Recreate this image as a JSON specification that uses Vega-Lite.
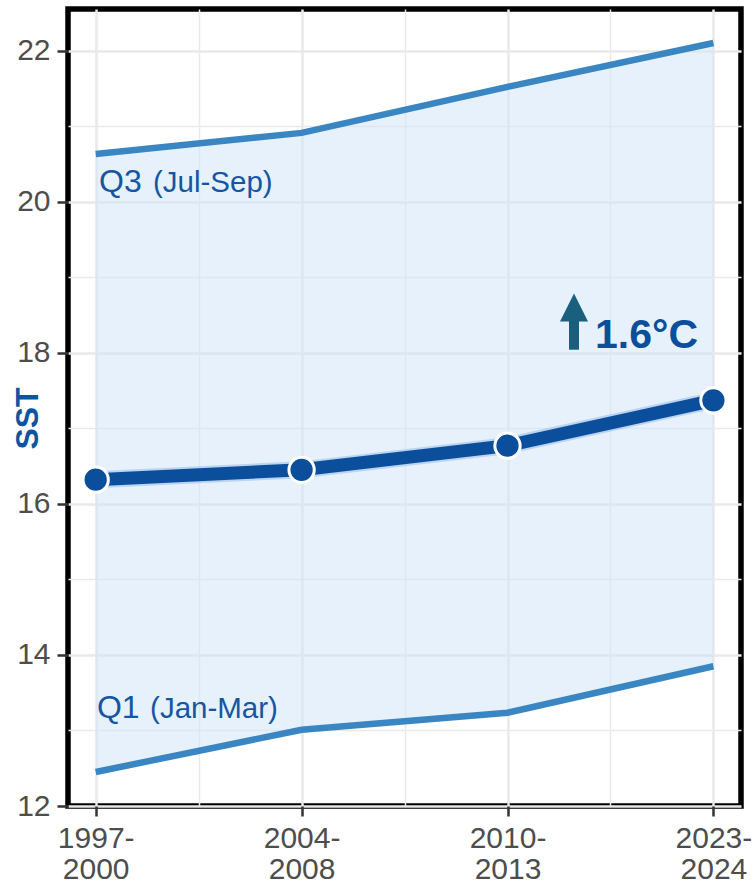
{
  "$schema": "https://vega.github.io/schema/vega-lite/v6.json",
  "width": 673,
  "height": 797,
  "autosize": "none",
  "padding": {"left": 68, "top": 9, "right": 14, "bottom": 80},
  "background": "white",
  "config": {
    "view": {"stroke": "black", "strokeWidth": 5.5},
    "font": "Liberation Sans",
    "axis": {
      "labelFont": "Liberation Sans",
      "labelFontSize": 30,
      "labelColor": "#4d4d4d",
      "tickWidth": 2.5,
      "domain": false,
      "gridColor": "#e9e9e9"
    }
  },
  "datasets": {
    "sst": [
      {"period": "1997-2000", "idx": 1, "q1": 12.45, "q3": 20.63, "mean": 16.32},
      {"period": "2004-2008", "idx": 2, "q1": 13.01, "q3": 20.91, "mean": 16.45},
      {"period": "2010-2013", "idx": 3, "q1": 13.235, "q3": 21.52, "mean": 16.77},
      {"period": "2023-2024", "idx": 4, "q1": 13.85, "q3": 22.1, "mean": 17.37}
    ],
    "qlabels": [
      {"x": 1.016, "y": 20.13, "text": "Q3"},
      {"x": 1.006, "y": 13.165, "text": "Q1"}
    ],
    "monthlabels": [
      {"x": 1.278, "y": 20.13, "text": "(Jul-Sep)"},
      {"x": 1.264, "y": 13.165, "text": "(Jan-Mar)"}
    ],
    "change": [
      {"x": 3.425, "y": 18.06, "text": "1.6°C"}
    ],
    "arrow": [
      {"x": 3.323, "y": 18.04, "y2": 18.45, "head": 18.6}
    ]
  },
  "layer": [
    {
      "data": {"name": "sst"},
      "mark": {"type": "area", "fill": "#d2e6fa", "opacity": 0.55},
      "encoding": {
        "x": {
          "field": "idx",
          "type": "quantitative",
          "scale": {"domain": [0.8655, 4.134], "nice": false, "zero": false},
          "axis": {
            "title": null,
            "values": [1, 1.5, 2, 2.5, 3, 3.5, 4],
            "labelExpr": "datum.value == 1 ? ['1997-','2000'] : datum.value == 2 ? ['2004-','2008'] : datum.value == 3 ? ['2010-','2013'] : datum.value == 4 ? ['2023-','2024'] : ''",
            "labelLineHeight": 31,
            "labelPadding": 7,
            "labelFlush": false,
            "labelOverlap": false,
            "tickSize": 10,
            "tickColor": {"condition": {"test": "datum.value % 1 == 0", "value": "#333333"}, "value": "transparent"},
            "grid": true,
            "gridWidth": {"condition": {"test": "datum.value % 1 == 0", "value": 2.5}, "value": 1.5}
          }
        },
        "y": {
          "field": "q1",
          "type": "quantitative",
          "title": "SST",
          "scale": {"domain": [12, 22.55], "nice": false, "zero": false},
          "axis": {
            "title": "SST",
            "titleFont": "Liberation Sans",
            "titleFontSize": 32,
            "titleFontWeight": "bold",
            "titleColor": "#0d55a1",
            "titleAngle": -90,
            "titleAlign": "center",
            "titleBaseline": "middle",
            "titleX": -41,
            "titleY": 409,
            "values": [12, 13, 14, 15, 16, 17, 18, 19, 20, 21, 22],
            "format": "d",
            "labelExpr": "datum.value % 2 == 0 ? datum.label : ''",
            "labelPadding": 7,
            "tickSize": 11,
            "tickColor": {"condition": {"test": "datum.value % 2 == 0", "value": "#333333"}, "value": "transparent"},
            "grid": true,
            "gridWidth": {"condition": {"test": "datum.value % 2 == 0", "value": 2.5}, "value": 1.5}
          }
        },
        "y2": {"field": "q3"}
      }
    },
    {
      "data": {"name": "sst"},
      "mark": {"type": "line", "color": "#3a86c3", "strokeWidth": 6.5},
      "encoding": {
        "x": {"field": "idx", "type": "quantitative", "title": null},
        "y": {"field": "q1", "type": "quantitative", "title": "SST"}
      }
    },
    {
      "data": {"name": "sst"},
      "mark": {"type": "line", "color": "#3a86c3", "strokeWidth": 6.5},
      "encoding": {
        "x": {"field": "idx", "type": "quantitative", "title": null},
        "y": {"field": "q3", "type": "quantitative", "title": "SST"}
      }
    },
    {
      "data": {"name": "sst"},
      "mark": {"type": "line", "color": "#8fb8e3", "strokeWidth": 17, "opacity": 0.5},
      "encoding": {
        "x": {"field": "idx", "type": "quantitative", "title": null},
        "y": {"field": "mean", "type": "quantitative", "title": "SST"}
      }
    },
    {
      "data": {"name": "sst"},
      "mark": {"type": "line", "color": "#0b4f9c", "strokeWidth": 13},
      "encoding": {
        "x": {"field": "idx", "type": "quantitative", "title": null},
        "y": {"field": "mean", "type": "quantitative", "title": "SST"}
      }
    },
    {
      "data": {"name": "sst"},
      "mark": {"type": "circle", "fill": "#0b4f9c", "stroke": "white", "strokeWidth": 3, "size": 640, "opacity": 1},
      "encoding": {
        "x": {"field": "idx", "type": "quantitative", "title": null},
        "y": {"field": "mean", "type": "quantitative", "title": "SST"}
      }
    },
    {
      "data": {"name": "qlabels"},
      "mark": {"type": "text", "align": "left", "baseline": "alphabetic", "fontSize": 32, "color": "#1556a3", "font": "Liberation Sans"},
      "encoding": {
        "x": {"field": "x", "type": "quantitative", "title": null},
        "y": {"field": "y", "type": "quantitative", "title": "SST"},
        "text": {"field": "text"}
      }
    },
    {
      "data": {"name": "monthlabels"},
      "mark": {"type": "text", "align": "left", "baseline": "alphabetic", "fontSize": 29.5, "color": "#1556a3", "font": "Liberation Sans"},
      "encoding": {
        "x": {"field": "x", "type": "quantitative", "title": null},
        "y": {"field": "y", "type": "quantitative", "title": "SST"},
        "text": {"field": "text"}
      }
    },
    {
      "data": {"name": "change"},
      "mark": {"type": "text", "align": "left", "baseline": "alphabetic", "fontSize": 41, "fontWeight": "bold", "color": "#0b4f9c", "font": "Liberation Sans"},
      "encoding": {
        "x": {"field": "x", "type": "quantitative", "title": null},
        "y": {"field": "y", "type": "quantitative", "title": "SST"},
        "text": {"field": "text"}
      }
    },
    {
      "data": {"name": "arrow"},
      "mark": {"type": "rule", "color": "#1a5f7d", "strokeWidth": 10},
      "encoding": {
        "x": {"field": "x", "type": "quantitative", "title": null},
        "y": {"field": "y", "type": "quantitative", "title": "SST"},
        "y2": {"field": "y2"}
      }
    },
    {
      "data": {"name": "arrow"},
      "mark": {"type": "point", "shape": "M-1,1L0,-1L1,1Z", "filled": true, "color": "#1a5f7d", "size": 784, "opacity": 1},
      "encoding": {
        "x": {"field": "x", "type": "quantitative", "title": null},
        "y": {"field": "head", "type": "quantitative", "title": "SST"}
      }
    }
  ]
}
